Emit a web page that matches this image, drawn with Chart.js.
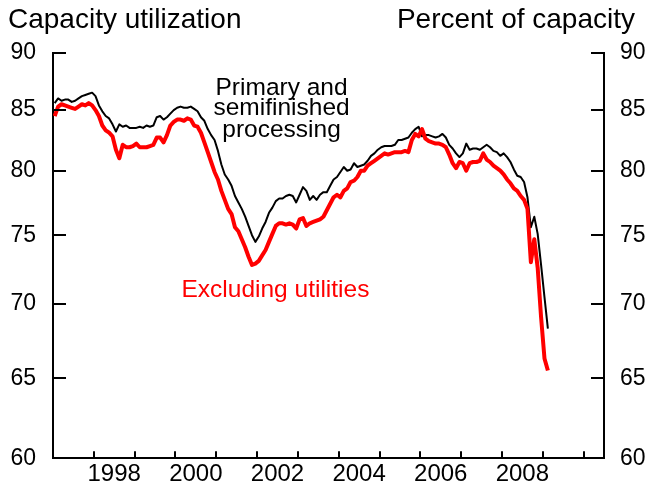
<!DOCTYPE html>
<html>
<head>
<meta charset="utf-8">
<script src="https://cdn.jsdelivr.net/npm/chart.js@4.4.1/dist/chart.umd.min.js"></script>
<style>
    html, body { margin: 0; padding: 0; background: #fff; }
</style>
</head>
<body>
<canvas id="cu-chart" width="652" height="489"></canvas>
<script>
// monthly, Jan 1997 .. Feb 2009
const startYear = 1997;
const primarySemi = [
    85.6, 86.0, 85.8, 85.9, 85.9, 85.7, 85.8, 86.0, 86.2, 86.3, 86.4, 86.5,
    86.2, 85.4, 84.9, 84.5, 84.3, 83.8, 83.2, 83.8, 83.6, 83.7, 83.5, 83.5,
    83.5, 83.6, 83.5, 83.7, 83.6, 83.7, 84.4, 84.5, 84.2, 84.4, 84.7, 85.0,
    85.2, 85.3, 85.2, 85.2, 85.3, 85.1, 84.9, 84.4, 84.1, 83.4, 82.9, 82.5,
    81.6, 80.5, 79.7, 79.3, 78.8, 78.0, 77.5, 77.0, 76.4, 75.7, 75.0, 74.5,
    74.9, 75.5, 76.0, 76.7, 77.1, 77.6, 77.8, 77.8, 78.0, 78.1, 78.0, 77.5,
    78.1, 78.7, 78.4, 77.7, 78.0, 77.7, 78.1, 78.3, 78.3, 78.8, 79.3, 79.5,
    79.9, 80.3, 80.0, 80.1, 80.6, 80.3, 80.4, 80.5, 80.8, 81.2, 81.4, 81.7,
    81.9, 82.0, 82.0, 82.0, 82.1, 82.5, 82.5, 82.6, 82.7, 83.1, 83.4, 83.6,
    82.8, 82.9, 82.9, 82.8, 82.7, 82.8, 83.0, 82.7, 82.1, 81.8, 81.4, 81.1,
    81.4, 82.2, 81.7, 81.8, 81.8, 81.7, 81.9, 82.1, 81.9, 81.6, 81.5, 81.2,
    81.4, 81.1, 80.7, 80.1, 79.6, 79.5, 79.1, 77.9, 75.6, 76.4, 75.1, 72.8,
    70.5, 68.3,
];
const exUtilities = [
    84.5, 85.3, 85.5, 85.4, 85.3, 85.2, 85.1, 85.3, 85.5, 85.4, 85.6, 85.4,
    85.0, 84.5, 83.7, 83.3, 83.1, 82.8, 81.7, 81.0, 82.1, 81.9, 81.9, 82.0,
    82.2, 81.9, 81.9, 81.9, 82.0, 82.1, 82.7, 82.7, 82.3, 82.9, 83.7, 84.0,
    84.2, 84.2, 84.1, 84.3, 84.2, 83.7, 83.6, 83.1, 82.3, 81.5, 80.7, 79.9,
    79.3, 78.4, 77.7, 77.0, 76.6, 75.6, 75.3, 74.7, 74.1, 73.4, 72.8, 72.9,
    73.1, 73.5, 73.9, 74.5, 75.1, 75.7, 75.9, 75.9, 75.8, 75.9, 75.8, 75.5,
    76.2, 76.3, 75.7, 75.9, 76.0, 76.1, 76.2, 76.4, 76.9, 77.4, 77.9, 78.1,
    77.9, 78.4, 78.6, 79.1, 79.2, 79.5, 80.0, 80.0, 80.4, 80.6, 80.8, 81.0,
    81.2, 81.4, 81.3, 81.4, 81.5, 81.5, 81.5, 81.6, 81.5, 82.5, 83.0, 82.8,
    83.4, 82.6, 82.4, 82.3, 82.2, 82.2, 82.1, 81.9, 81.3, 80.6, 80.2, 80.7,
    80.6, 80.0, 80.6, 80.7, 80.7, 80.8, 81.4, 80.9, 80.7, 80.4, 80.2, 80.0,
    79.7, 79.3, 79.0, 78.6, 78.4, 78.0, 77.7, 77.0, 73.0, 74.7, 72.6, 69.1,
    66.3, 65.5,
];
const yTicks = [60, 65, 70, 75, 80, 85, 90];
const yearTicks = [1998, 1999, 2000, 2001, 2002, 2003, 2004, 2005, 2006, 2007, 2008, 2009, 2010];
const yearLabels = [1998, 2000, 2002, 2004, 2006, 2008];

const FONT = '"Liberation Sans", Arial, sans-serif';

// months plotted at mid-month
const toPoints = (arr) => arr.map((v, i) => ({ x: startYear + (i + 0.5) / 12, y: v }));

const yAxis = (pos, width, pad) => ({
    type: 'logarithmic',
    position: pos,
    min: 60,
    max: 90,
    afterBuildTicks: (s) => { s.ticks = yTicks.map(v => ({ value: v })); },
    afterFit: (s) => { s.width = width; },
    ticks: {
        callback: (v) => String(v),
        color: '#000',
        font: { family: FONT, size: 23 },
        padding: pad,
    },
    grid: { display: false, drawTicks: false },
    border: { display: true, color: '#000', width: 2 },
});

// inward tick marks on all three axes
const tickMarks = {
    id: 'tickMarks',
    afterDraw(chart) {
        const { ctx, chartArea: a, scales } = chart;
        ctx.save();
        ctx.strokeStyle = '#000';
        ctx.lineWidth = 2;
        ctx.beginPath();
        yearTicks.forEach(yr => {
            const x = Math.round(scales.x.getPixelForValue(yr));
            ctx.moveTo(x, a.bottom);
            ctx.lineTo(x, a.bottom - 7);
        });
        yTicks.forEach(v => {
            const y = Math.round(scales.y.getPixelForValue(v));
            ctx.moveTo(a.left, y);
            ctx.lineTo(a.left + 13, y);
            ctx.moveTo(a.right, y);
            ctx.lineTo(a.right - 13, y);
        });
        ctx.stroke();
        ctx.restore();
    }
};

// titles and series labels
const chartText = {
    id: 'chartText',
    afterDraw(chart) {
        const { ctx, scales } = chart;
        const xs = scales.x, ys = scales.y;
        ctx.save();
        ctx.textBaseline = 'middle';
        ctx.font = `28px ${FONT}`;
        ctx.fillStyle = '#000';
        ctx.textAlign = 'left';
        ctx.fillText('Capacity utilization', 8, 20);
        ctx.textAlign = 'right';
        ctx.fillText('Percent of capacity', 635, 20);

        ctx.font = `24.5px ${FONT}`;
        ctx.textAlign = 'center';
        const px = xs.getPixelForValue(2002.6);
        ctx.fillText('Primary and', px, ys.getPixelForValue(86.9));
        ctx.fillText('semifinished', px, ys.getPixelForValue(85.15));
        ctx.fillText('processing', px, ys.getPixelForValue(83.3));

        ctx.fillStyle = '#ff0000';
        ctx.fillText('Excluding utilities', xs.getPixelForValue(2002.45), ys.getPixelForValue(71.0));
        ctx.restore();
    }
};

new Chart(document.getElementById('cu-chart').getContext('2d'), {
    type: 'line',
    data: {
        datasets: [
            {
                label: 'Excluding utilities',
                data: toPoints(exUtilities),
                borderColor: '#ff0000',
                borderWidth: 4,
                pointRadius: 0,
                tension: 0,
                borderJoinStyle: 'round',
            },
            {
                label: 'Primary and semifinished processing',
                data: toPoints(primarySemi),
                borderColor: '#000000',
                borderWidth: 2,
                pointRadius: 0,
                tension: 0,
                borderJoinStyle: 'round',
            },
        ],
    },
    options: {
        responsive: false,
        animation: false,
        devicePixelRatio: 1,
        layout: { padding: { top: 53 } },
        plugins: {
            legend: { display: false },
            tooltip: { enabled: false },
        },
        scales: {
            x: {
                type: 'linear',
                min: 1997,
                max: 2010.5,
                // year labels sit in the middle of the year
                afterBuildTicks: (s) => { s.ticks = yearLabels.map(y => ({ value: y + 0.5 })); },
                afterFit: (s) => { s.height = 30; },
                ticks: {
                    callback: (v) => String(Math.floor(v)),
                    color: '#000',
                    font: { family: FONT, size: 24 },
                    padding: 2,
                    autoSkip: false,
                    maxRotation: 0,
                },
                grid: { display: false, drawTicks: false },
                border: { display: true, color: '#000', width: 2 },
            },
            y: yAxis('left', 53, 17),
            y2: yAxis('right', 48, 16),
        },
    },
    plugins: [tickMarks, chartText],
});
</script>
</body>
</html>
